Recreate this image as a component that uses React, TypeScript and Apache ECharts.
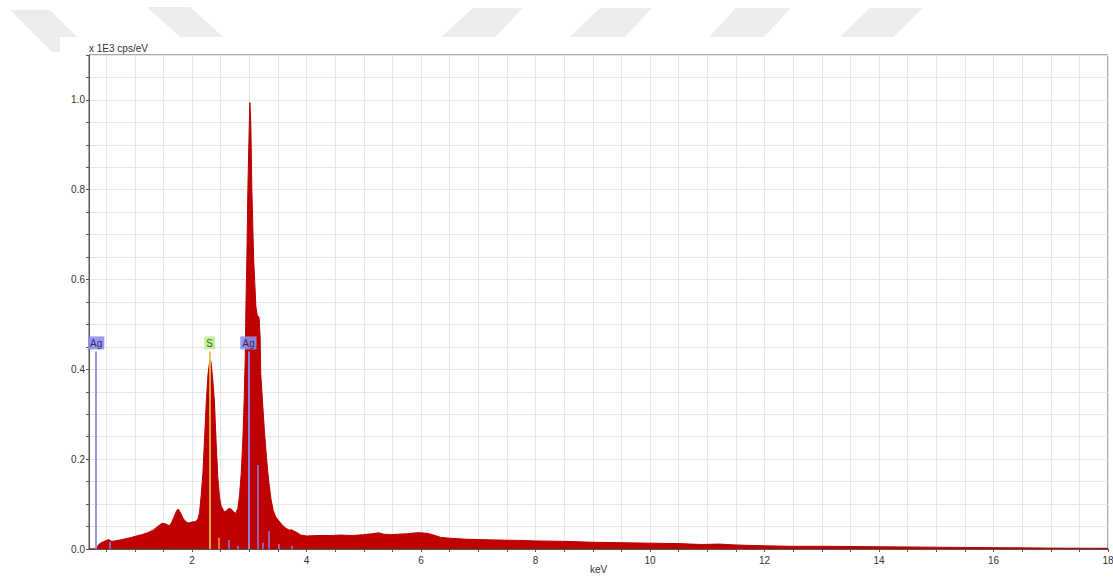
import React, { useEffect, useRef } from "react";
import * as echarts from "echarts";

// Spectrum: energy (keV) and intensity (x 1E3 cps/eV)
const energyKeV = [
  0.2, 0.33, 0.35, 0.37, 0.4, 0.45, 0.5, 0.54, 0.57, 0.6, 0.65, 0.74, 0.85, 0.95, 1.03, 1.12, 1.22, 1.32, 1.4, 1.47,
  1.53, 1.6, 1.64, 1.68, 1.73, 1.76, 1.8, 1.85, 1.9, 1.94, 2.0, 2.06, 2.1, 2.13, 2.16, 2.19, 2.22, 2.25, 2.28, 2.31,
  2.33, 2.36, 2.39, 2.42, 2.45, 2.48, 2.51, 2.56, 2.6, 2.64, 2.68, 2.72, 2.76, 2.8, 2.83, 2.86, 2.89, 2.91, 2.93, 2.94,
  2.958, 2.975, 3.0, 3.01, 3.027, 3.045, 3.075, 3.115, 3.14, 3.17, 3.19, 3.2, 3.23, 3.26, 3.29, 3.32, 3.35, 3.38, 3.42, 3.46,
  3.52, 3.58, 3.64, 3.7, 3.73, 3.78, 3.84, 3.9, 4.0, 4.2, 4.4, 4.6, 4.8, 5.0, 5.15, 5.26, 5.35, 5.47, 5.6, 5.76,
  5.9, 6.0, 6.1, 6.2, 6.34, 6.5, 6.75, 7.0, 7.33, 7.74, 8.0, 8.5, 9.0, 9.5, 10.0, 10.5, 10.9, 11.2, 11.5, 12.0,
  12.5, 13.0, 14.0, 15.0, 16.0, 17.0, 18.0,
];
const intensity = [
  0, 0, 0.006, 0.01, 0.013, 0.016, 0.019, 0.021, 0.019, 0.017, 0.018, 0.02, 0.023, 0.026, 0.029, 0.032, 0.036, 0.042, 0.05, 0.057,
  0.056, 0.052, 0.058, 0.07, 0.085, 0.089, 0.08, 0.067, 0.06, 0.058, 0.06, 0.061, 0.066, 0.08, 0.12, 0.17, 0.25, 0.33, 0.39, 0.42,
  0.418, 0.38, 0.33, 0.24, 0.16, 0.115, 0.095, 0.083, 0.085, 0.09, 0.089, 0.084, 0.079, 0.09, 0.12, 0.17, 0.25, 0.33, 0.43, 0.53,
  0.65, 0.8, 0.946, 0.994, 0.946, 0.8, 0.65, 0.54, 0.52, 0.516, 0.47, 0.39, 0.33, 0.27, 0.22, 0.175, 0.14, 0.11, 0.085, 0.072,
  0.062, 0.053, 0.046, 0.042, 0.043, 0.04, 0.036, 0.031, 0.029, 0.03, 0.03, 0.031, 0.03, 0.032, 0.034, 0.036, 0.033, 0.032, 0.033, 0.034,
  0.036, 0.036, 0.035, 0.032, 0.026, 0.024, 0.022, 0.021, 0.02, 0.019, 0.018, 0.017, 0.015, 0.014, 0.013, 0.012, 0.01, 0.011, 0.009, 0.007,
  0.006, 0.006, 0.005, 0.004, 0.003, 0.002, 0.0015,
];

// Element marker lines
const agLineKeV = [0.325, 0.56, 2.633, 2.806, 2.984, 3.151, 3.234, 3.348, 3.52, 3.75];
const agLineHeight = [0.44, 0.016, 0.02, 0.007, 0.44, 0.187, 0.014, 0.04, 0.011, 0.007];
const agLineLabelled = [true, false, false, false, true, false, false, false, false, false];
const sLineKeV = [2.307, 2.464];
const sLineHeight = [0.44, 0.025];
const sLineLabelled = [true, false];

// Axis ticks / labels
const xTickValues = [
  0.5, 1, 1.5, 2, 2.5, 3, 3.5, 4, 4.5, 5, 5.5, 6, 6.5, 7, 7.5, 8, 8.5, 9,
  9.5, 10, 10.5, 11, 11.5, 12, 12.5, 13, 13.5, 14, 14.5, 15, 15.5, 16, 16.5, 17, 17.5, 18,
];
const xLabelValues = [2, 4, 6, 8, 10, 12, 14, 16, 18];

const FONT = "Liberation Sans";

function buildMarkLines(
  xs: number[],
  hs: number[],
  labelled: boolean[],
  name: string,
  color: string,
  labelBg: string,
  labelColor: string
) {
  return xs.map((x, i) => [
    {
      coord: [x, 0],
      lineStyle: { color, width: labelled[i] ? 2 : 1.5, opacity: 0.9, type: "solid" },
      label: labelled[i]
        ? {
            show: true,
            position: "end",
            formatter: name,
            backgroundColor: labelBg,
            color: labelColor,
            padding: [2, 2, 1, 2],
            fontSize: 10,
            fontFamily: FONT,
            distance: 2,
          }
        : { show: false },
    },
    { coord: [x, hs[i]] },
  ]);
}

export default function App() {
  const ref = useRef<HTMLDivElement>(null);
  useEffect(() => {
    document.body.style.margin = "0";
    if (!ref.current) return;
    const chart = echarts.init(ref.current, undefined, { renderer: "svg" });
    const spectrum = energyKeV.map((e, i) => [e, intensity[i]]);
    const wm = "#ececec";
    chart.setOption({
      animation: false,
      backgroundColor: "#ffffff",
      graphic: [
        { type: "polygon", z: -20, shape: { points: [[10, 10], [50, 10], [92, 52], [52, 52]] }, style: { fill: wm } },
        { type: "polygon", z: -20, shape: { points: [[147, 7], [190, 7], [232, 45], [189, 45]] }, style: { fill: wm } },
        { type: "polygon", z: -20, shape: { points: [[473, 8], [523, 8], [495, 37], [441, 37]] }, style: { fill: wm } },
        { type: "polygon", z: -20, shape: { points: [[600, 8], [652, 8], [625, 37], [570, 37]] }, style: { fill: wm } },
        { type: "polygon", z: -20, shape: { points: [[736, 8], [791, 8], [764, 37], [709, 37]] }, style: { fill: wm } },
        { type: "polygon", z: -20, shape: { points: [[870, 8], [923, 8], [893, 37], [840, 37]] }, style: { fill: wm } },
        { type: "rect", z: -10, shape: { x: 60, y: 37, width: 1060, height: 545 }, style: { fill: "#ffffff" } },
      ],
      grid: {
        left: 89,
        right: 5,
        top: 55,
        bottom: 29,
        show: true,
        borderColor: "#555555",
        borderWidth: 1,
        containLabel: false,
        outerBoundsMode: "none",
      },
      xAxis: {
        type: "value",
        min: 0.2,
        max: 18,
        name: "keV",
        nameLocation: "middle",
        nameGap: 15,
        nameMoveOverlap: false,
        nameTextStyle: { fontFamily: FONT, fontSize: 10, color: "#333", verticalAlign: "top" },
        axisLine: { show: true, onZero: false, lineStyle: { color: "#555555", width: 1 } },
        axisTick: { show: true, length: 3, customValues: xTickValues, lineStyle: { color: "#555555" } },
        axisLabel: { customValues: xLabelValues, fontFamily: FONT, fontSize: 10, color: "#333", margin: 6 },
        splitLine: { show: true, lineStyle: { color: "#e6e6e6", width: 1 } },
      },
      yAxis: {
        type: "value",
        min: 0,
        max: 1.1,
        interval: 0.05,
        name: "x 1E3 cps/eV",
        nameLocation: "end",
        nameGap: 2,
        nameTextStyle: { fontFamily: FONT, fontSize: 10, color: "#333", align: "left", verticalAlign: "bottom" },
        axisLine: { show: true, lineStyle: { color: "#555555", width: 1 } },
        axisTick: { show: true, length: 3, lineStyle: { color: "#555555" } },
        axisLabel: {
          fontFamily: FONT,
          fontSize: 10,
          color: "#333",
          margin: 4,
          formatter: (v: number) => (Math.abs(v * 5 - Math.round(v * 5)) < 1e-6 ? v.toFixed(1) : ""),
        },
        splitLine: { show: true, lineStyle: { color: "#e6e6e6", width: 1 } },
      },
      series: [
        {
          type: "line",
          data: spectrum,
          symbol: "none",
          lineStyle: { color: "#b80000", width: 1 },
          areaStyle: { color: "#c00000", opacity: 1 },
          itemStyle: { color: "#c00000" },
          silent: true,
          z: 2,
        },
        {
          type: "line",
          data: [],
          symbol: "none",
          z: 5,
          silent: true,
          markLine: {
            silent: true,
            symbol: ["none", "none"],
            animation: false,
            data: buildMarkLines(agLineKeV, agLineHeight, agLineLabelled, "Ag", "#8c8cf0", "#8e8eec", "#1c1c5c"),
          },
        },
        {
          type: "line",
          data: [],
          symbol: "none",
          z: 5,
          silent: true,
          markLine: {
            silent: true,
            symbol: ["none", "none"],
            animation: false,
            data: buildMarkLines(sLineKeV, sLineHeight, sLineLabelled, "S", "#e8b84a", "#bff092", "#2a4a10"),
          },
        },
      ],
    });
    return () => chart.dispose();
  }, []);
  return <div ref={ref} style={{ position: "fixed", left: 0, top: 0, width: 1113, height: 578 }} />;
}
